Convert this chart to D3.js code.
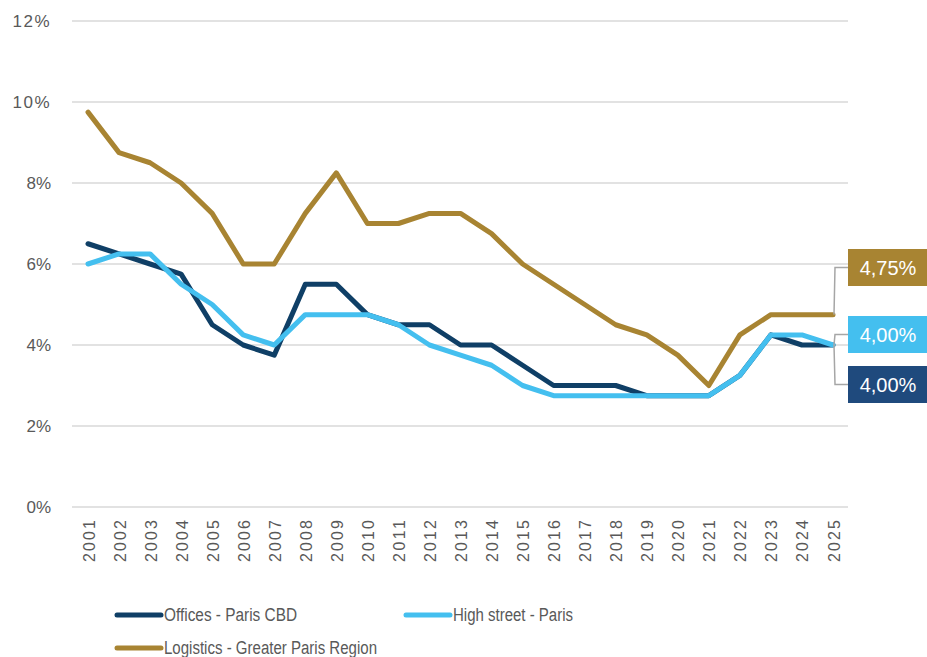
<!DOCTYPE html>
<html>
<head>
<meta charset="utf-8">
<script src="https://cdn.jsdelivr.net/npm/d3@7/dist/d3.min.js"></script>
<style>
  html, body { margin: 0; padding: 0; background: #fff; }
  svg { display: block; }
</style>
</head>
<body>
<svg id="chart" width="927" height="657"></svg>
<script>
// Prime yields, % (end of year)
const years = [2001, 2002, 2003, 2004, 2005, 2006, 2007, 2008, 2009, 2010, 2011, 2012, 2013,
               2014, 2015, 2016, 2017, 2018, 2019, 2020, 2021, 2022, 2023, 2024, 2025];
const offices = [6.5, 6.25, 6.0, 5.75, 4.5, 4.0, 3.75, 5.5, 5.5, 4.75, 4.5, 4.5, 4.0,
                 4.0, 3.5, 3.0, 3.0, 3.0, 2.75, 2.75, 2.75, 3.25, 4.25, 4.0, 4.0];
const highStreet = [6.0, 6.25, 6.25, 5.5, 5.0, 4.25, 4.0, 4.75, 4.75, 4.75, 4.5, 4.0, 3.75,
                    3.5, 3.0, 2.75, 2.75, 2.75, 2.75, 2.75, 2.75, 3.25, 4.25, 4.25, 4.0];
const logistics = [9.75, 8.75, 8.5, 8.0, 7.25, 6.0, 6.0, 7.25, 8.25, 7.0, 7.0, 7.25, 7.25,
                   6.75, 6.0, 5.5, 5.0, 4.5, 4.25, 3.75, 3.0, 4.25, 4.75, 4.75, 4.75];
const yTicks = [0, 2, 4, 6, 8, 10, 12];
const seriesNames = ["Offices - Paris CBD", "High street - Paris", "Logistics - Greater Paris Region"];

const colors = { offices: "#0F3F66", high: "#44BFEF", logistics: "#A88432", officesTag: "#1F4A7D" };

const svg = d3.select("#chart");
const plot = { left: 72, right: 848, top: 21, bottom: 507 };

const x = d3.scalePoint().domain(years).range([88, 833]);
const y = d3.scaleLinear().domain([0, 12]).range([plot.bottom, plot.top]);

const fmt = v => d3.format(".2f")(v).replace(".", ",") + "%";

// Gridlines
svg.append("g").selectAll("line").data(yTicks).join("line")
  .attr("x1", plot.left).attr("x2", plot.right)
  .attr("y1", d => y(d)).attr("y2", d => y(d))
  .attr("stroke", "#d9d9d9").attr("stroke-width", 1.5);

// Y axis labels
const yAxis = svg.append("g").attr("transform", `translate(${plot.left},0)`)
  .call(d3.axisLeft(y).tickValues(yTicks).tickFormat(d => d + "%").tickSize(0).tickPadding(21));
yAxis.select(".domain").remove();
yAxis.selectAll("text").attr("fill", "#595959").attr("font-family", "Liberation Sans, Arial, sans-serif")
  .attr("font-size", 17).attr("letter-spacing", d => d >= 10 ? 1.5 : 0);

// X axis labels (rotated)
const xAxis = svg.append("g").attr("transform", `translate(0,${plot.bottom})`)
  .call(d3.axisBottom(x).tickSize(0).tickPadding(0));
xAxis.select(".domain").remove();
xAxis.selectAll("text")
  .attr("fill", "#595959").attr("font-family", "Liberation Sans, Arial, sans-serif").attr("font-size", 16)
  .attr("text-anchor", "end").attr("dy", null)
  .attr("textLength", 42).attr("lengthAdjust", "spacing")
  .attr("transform", "translate(6,13) rotate(-90)");

// Lines
const line = d3.line().x((d, i) => x(years[i])).y(d => y(d));
const series = [
  { values: offices, color: colors.offices },
  { values: highStreet, color: colors.high },
  { values: logistics, color: colors.logistics }
];
svg.append("g").selectAll("path").data(series).join("path")
  .attr("d", d => line(d.values))
  .attr("fill", "none").attr("stroke", d => d.color)
  .attr("stroke-width", 5).attr("stroke-linejoin", "round").attr("stroke-linecap", "round");

// End-value tags with leader lines
const last = years.length - 1;
const tags = [
  { value: logistics[last], fill: colors.logistics, boxY: 249 },
  { value: highStreet[last], fill: colors.high, boxY: 316 },
  { value: offices[last], fill: colors.officesTag, boxY: 366 }
];
const boxX = 848, boxW = 80, boxH = 37;
const tagG = svg.append("g");
tagG.selectAll("path").data(tags).join("path")
  .attr("d", d => {
    const px = x(years[last]), py = y(d.value), cy = d.boxY + boxH / 2;
    return `M${px + 1},${py} L${px + 2},${cy} L${boxX},${cy}`;
  })
  .attr("fill", "none").attr("stroke", "#a6a6a6").attr("stroke-width", 1.5);
tagG.selectAll("rect").data(tags).join("rect")
  .attr("x", boxX).attr("y", d => d.boxY).attr("width", boxW).attr("height", boxH)
  .attr("fill", d => d.fill);
tagG.selectAll("text").data(tags).join("text")
  .attr("x", boxX + 40).attr("y", d => d.boxY + boxH / 2 + 7)
  .attr("text-anchor", "middle").attr("fill", "#fff")
  .attr("font-family", "Liberation Sans, Arial, sans-serif").attr("font-size", 20)
  .text(d => fmt(d.value));

// Legend
const legendItems = [
  { name: seriesNames[0], color: colors.offices, x: 117, y: 615, w: 133 },
  { name: seriesNames[1], color: colors.high, x: 406, y: 615, w: 120 },
  { name: seriesNames[2], color: colors.logistics, x: 117, y: 648, w: 213 }
];
const lg = svg.append("g").selectAll("g").data(legendItems).join("g")
  .attr("transform", d => `translate(${d.x},${d.y})`);
lg.append("line").attr("x1", 0).attr("x2", 44).attr("y1", 0).attr("y2", 0)
  .attr("stroke", d => d.color).attr("stroke-width", 5).attr("stroke-linecap", "round");
lg.append("text").attr("x", 47).attr("y", 6)
  .attr("fill", "#595959").attr("font-family", "Liberation Sans, Arial, sans-serif")
  .attr("font-size", 18)
  .attr("textLength", d => d.w).attr("lengthAdjust", "spacingAndGlyphs")
  .text(d => d.name);
</script>
</body>
</html>
